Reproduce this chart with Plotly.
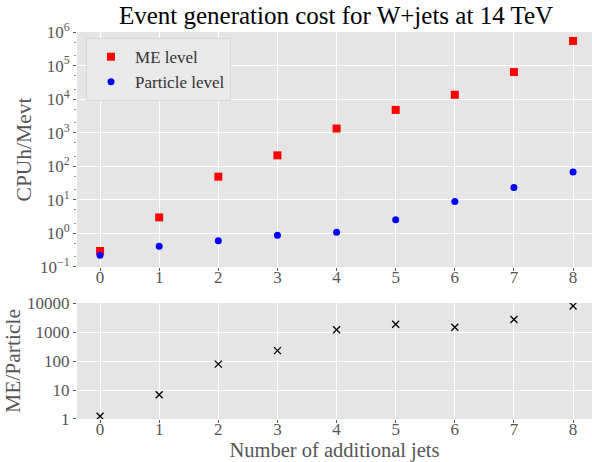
import plotly.graph_objects as go
from plotly.subplots import make_subplots

# Number of additional jets
jets = [0, 1, 2, 3, 4, 5, 6, 7, 8]

# CPU hours per million events
me_level = [0.30, 3.0, 49, 212, 1330, 4790, 13500, 64100, 541000]
particle_level = [0.223, 0.414, 0.60, 0.88, 1.09, 2.54, 8.95, 23.5, 67]

# ME / Particle cost ratio
ratio = [1.25, 6.9, 78, 228, 1190, 1860, 1460, 2690, 7900]

top_ticks = [0.1, 1, 10, 100, 1e3, 1e4, 1e5, 1e6]
top_ticktext = ["10<sup>−1</sup>", "10<sup>0</sup>", "10<sup>1</sup>", "10<sup>2</sup>",
                "10<sup>3</sup>", "10<sup>4</sup>", "10<sup>5</sup>", "10<sup>6</sup>"]
bottom_ticks = [1, 10, 100, 1000, 10000]
bottom_ticktext = ["1", "10", "100", "1000", "10000"]

FONT = "Liberation Serif"
GRAY = "#555555"
BG = "#E5E5E5"

fig = make_subplots(rows=2, cols=1, shared_xaxes=False, vertical_spacing=0.0)

fig.add_trace(go.Scatter(x=jets, y=me_level, mode="markers", name="ME level",
                         marker=dict(symbol="square", size=8, color="#FF0000")),
              row=1, col=1)
fig.add_trace(go.Scatter(x=jets, y=particle_level, mode="markers", name="Particle level",
                         marker=dict(symbol="circle", size=7, color="#0000FF")),
              row=1, col=1)
fig.add_trace(go.Scatter(x=jets, y=ratio, mode="markers", showlegend=False,
                         marker=dict(symbol="x-thin", size=7,
                                     line=dict(color="black", width=1.3))),
              row=2, col=1)

axis_common = dict(
    automargin=False,
    showline=False, zeroline=False, showgrid=True, gridcolor="white", gridwidth=1,
    ticks="outside", ticklen=3, tickcolor=GRAY, tickfont=dict(family=FONT, size=17, color=GRAY),
)

fig.update_xaxes(range=[-0.39, 8.32], tickvals=jets, ticklabelstandoff=-8, **axis_common)
fig.update_xaxes(title=dict(text="Number of additional jets", font=dict(family=FONT, size=20.5, color=GRAY),
                            standoff=8), row=2, col=1)
fig.update_yaxes(**axis_common)
fig.update_yaxes(type="log", range=[-1, 6], tickvals=top_ticks, ticktext=top_ticktext,
                 minor=dict(ticks="outside", ticklen=2, tickcolor="#999999", showgrid=False),
                 title=dict(text="CPUh/Mevt", font=dict(family=FONT, size=21.5, color=GRAY), standoff=2),
                 domain=[0.3928, 1.0], row=1, col=1)
fig.update_yaxes(type="log", range=[0, 4], tickvals=bottom_ticks, ticktext=bottom_ticktext,
                 title=dict(text="ME/Particle", font=dict(family=FONT, size=21.5, color=GRAY), standoff=0),
                 domain=[0.0, 0.2997], row=2, col=1)

fig.update_layout(
    width=592, height=462,
    margin=dict(l=77, r=0, t=32, b=43, autoexpand=False),
    paper_bgcolor="white", plot_bgcolor=BG,
    title=dict(text="Event generation cost for W+jets at 14 TeV", x=336 / 592, xanchor="center",
               y=1 - 15 / 462, yanchor="middle", yref="container", automargin=False,
               font=dict(family=FONT, size=25, color="black")),
    legend=dict(x=0.0175, y=0.984, xanchor="left", yanchor="top",
                bgcolor="#E9E9E9", bordercolor="#D8D8D8", borderwidth=1,
                font=dict(family=FONT, size=17, color="#333333"),
                itemwidth=38, tracegroupgap=0),
    showlegend=True,
)

fig.write_html("out.html")
